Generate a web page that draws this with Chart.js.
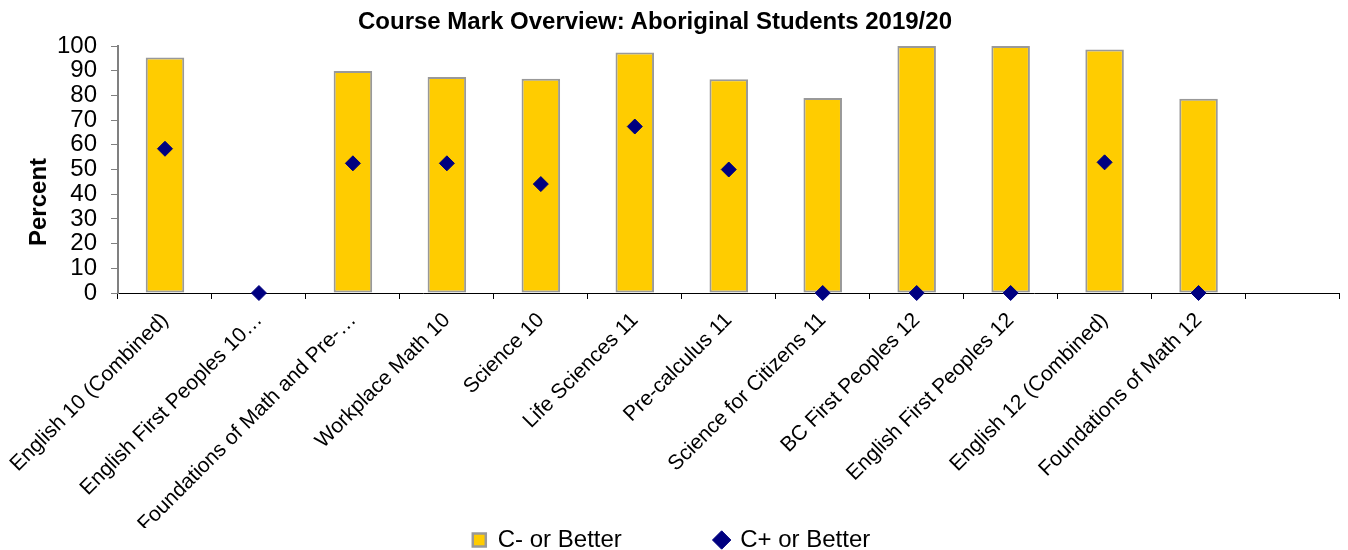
<!DOCTYPE html>
<html>
<head>
<meta charset="utf-8">
<title>Course Mark Overview</title>
<script src="https://cdn.jsdelivr.net/npm/chart.js@4.4.0/dist/chart.umd.min.js"></script>
<style>
  html, body { margin: 0; padding: 0; background: #fff; }
  .chart-box { position: relative; width: 1348px; height: 550px; font-family: 'Liberation Sans', Arial, sans-serif; color: #000; }
  .chart-title { position: absolute; top: 7px; left: 0; width: 1310px; text-align: center; font-size: 24px; line-height: 28px; font-weight: bold; }
  .axis-title { position: absolute; left: 38px; top: 202px; font-size: 24px; font-weight: bold; white-space: nowrap;
                transform: translate(-50%, -50%) rotate(-90deg); }
</style>
</head>
<body>
<div class="chart-box">
  <canvas id="markChart" width="1348" height="550"></canvas>
  <div class="chart-title">Course Mark Overview: Aboriginal Students 2019/20</div>
  <div class="axis-title">Percent</div>
</div>
<script>
// Course list (last slot is left empty on purpose, as in the school report)
const courses = [
    'English 10 (Combined)',
    'English First Peoples 10…',
    'Foundations of Math and Pre-…',
    'Workplace Math 10',
    'Science 10',
    'Life Sciences 11',
    'Pre-calculus 11',
    'Science for Citizens 11',
    'BC First Peoples 12',
    'English First Peoples 12',
    'English 12 (Combined)',
    'Foundations of Math 12',
    ''
];

// % of students at C- or better / C+ or better
const cMinusOrBetter = [95.3, null, 89.9, 87.5, 86.7, 97.4, 86.5, 78.9, 100, 100, 98.6, 78.6, null];
const cPlusOrBetter  = [58.4, 0, 52.5, 52.5, 44.1, 67.4, 50.0, 0, 0, 0, 52.9, 0, null];

const percentTicks = [0, 10, 20, 30, 40, 50, 60, 70, 80, 90, 100];

const FONT = "'Liberation Sans', Arial, sans-serif";

new Chart(document.getElementById('markChart'), {
    data: {
        labels: courses,
        datasets: [
            {
                type: 'bar',
                label: 'C- or Better',
                data: cMinusOrBetter,
                backgroundColor: '#FFCC00',
                borderColor: '#999999',
                borderWidth: 2,
                borderSkipped: false,
                barPercentage: 0.41,
                categoryPercentage: 1,
                order: 1
            },
            {
                type: 'line',
                label: 'C+ or Better',
                data: cPlusOrBetter,
                showLine: false,
                pointStyle: 'rectRot',
                pointRadius: 7.5,
                pointHoverRadius: 7.5,
                backgroundColor: '#000080',
                borderColor: '#000080',
                borderWidth: 1,
                clip: false,
                order: 0
            }
        ]
    },
    options: {
        responsive: false,
        animation: false,
        layout: { padding: { left: 0, right: 5, top: 46, bottom: -12 } },
        plugins: {
            legend: {
                position: 'bottom',
                labels: {
                    usePointStyle: true,
                    boxWidth: 13,
                    boxHeight: 13,
                    padding: 0,
                    color: '#000',
                    font: { family: FONT, size: 24 },
                    generateLabels(chart) {
                        const items = Chart.defaults.plugins.legend.labels.generateLabels(chart);
                        items.sort((a, b) => a.datasetIndex - b.datasetIndex);
                        items[0].pointStyle = 'rect';
                        items[0].lineWidth = 2.5;
                        // trailing spaces open up the gap between the two entries
                        items[0].text = items[0].text + ' '.repeat(14);
                        items[1].pointStyle = 'rectRot';
                        return items;
                    }
                }
            },
            tooltip: { enabled: false }
        },
        scales: {
            x: {
                grid: {
                    offset: true,
                    drawOnChartArea: false,
                    tickLength: 6,
                    color: '#000'
                },
                border: { color: '#000', width: 1 },
                ticks: {
                    autoSkip: false,
                    minRotation: 45,
                    maxRotation: 45,
                    padding: 9,
                    color: '#000',
                    font: { family: FONT, size: 21 }
                },
                afterFit(scale) {
                    scale.height = 235;
                    // long rotated labels may run into the left margin
                    scale.paddingLeft = 0;
                    scale.paddingRight = 0;
                }
            },
            y: {
                min: 0,
                max: 100,
                afterBuildTicks(scale) {
                    scale.ticks = percentTicks.map(v => ({ value: v }));
                },
                afterFit(scale) { scale.width = 118; },
                grid: {
                    drawOnChartArea: false,
                    tickLength: 7,
                    color: '#808080'
                },
                border: { color: '#808080', width: 2 },
                ticks: {
                    autoSkip: false,
                    padding: 14,
                    color: '#000',
                    font: { family: FONT, size: 24 }
                }
            }
        }
    }
});
</script>
</body>
</html>
